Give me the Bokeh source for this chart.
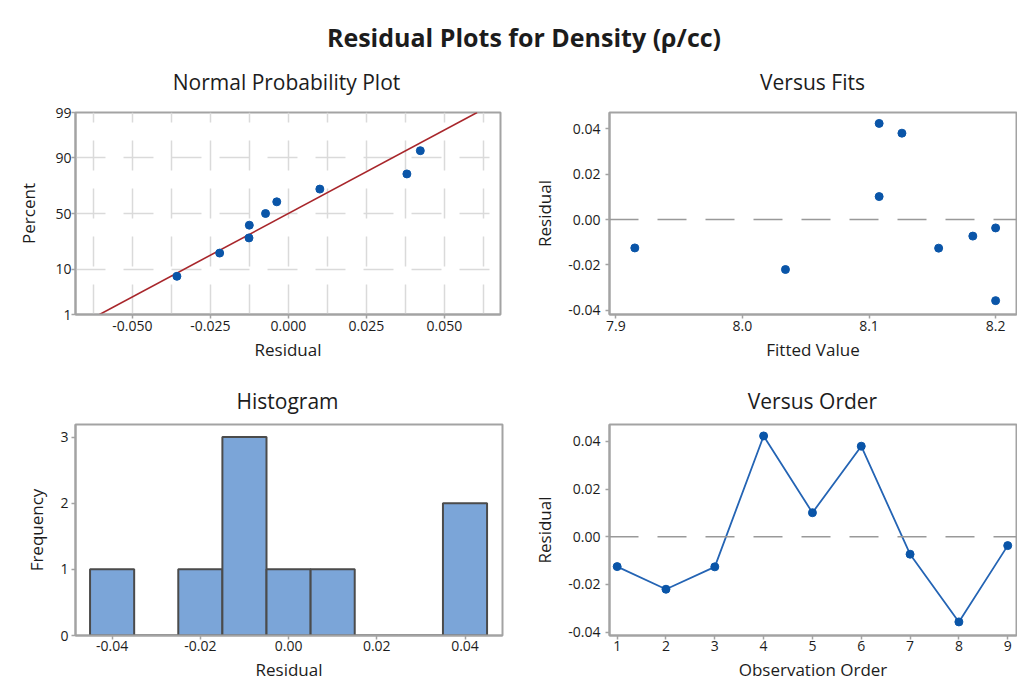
from statistics import NormalDist
from bokeh.plotting import figure
from bokeh.layouts import column, row
from bokeh.models import FixedTicker, NumeralTickFormatter, Span, Label, Range1d
from bokeh.embed import file_html
from bokeh.resources import INLINE

# ---------------- data ----------------
observation_order = [1, 2, 3, 4, 5, 6, 7, 8, 9]
residuals = [-0.0125, -0.0220, -0.0126, 0.0423, 0.0101, 0.0380, -0.0073, -0.0357, -0.0037]
fitted_values = [7.915, 8.034, 8.155, 8.108, 8.108, 8.126, 8.182, 8.200, 8.200]

npp_residual = [-0.0357, -0.0220, -0.0126, -0.0125, -0.0073, -0.0037, 0.0101, 0.0380, 0.0423]
npp_percent = [7.4, 18.1, 28.7, 39.4, 50.0, 60.6, 71.3, 81.9, 92.6]
fit_line_residual = [-0.0605, 0.0605]
fit_line_percent = [1, 99]

hist_centers = [-0.04, -0.03, -0.02, -0.01, 0.00, 0.01, 0.02, 0.03, 0.04]
hist_counts = [1, 0, 1, 3, 1, 1, 0, 0, 2]
hist_bin_width = 0.01

percent_ticks = [1, 10, 50, 90, 99]
percent_grid = [10, 50, 90]
npp_x_ticks = [-0.050, -0.025, 0.000, 0.025, 0.050]
npp_x_grid = [-0.0625, -0.05, -0.0375, -0.025, -0.0125, 0.0, 0.0125, 0.025, 0.0375, 0.05, 0.0625]
hist_x_ticks = [-0.04, -0.02, 0.00, 0.02, 0.04]
hist_y_ticks = [0, 1, 2, 3]
fits_x_ticks = [7.9, 8.0, 8.1, 8.2]
resid_y_ticks = [-0.04, -0.02, 0.00, 0.02, 0.04]

main_title = "Residual Plots for Density (ρ/cc)"
panel_titles = ["Normal Probability Plot", "Versus Fits", "Histogram", "Versus Order"]

# ---------------- styling ----------------
FONT = "Open Sans"
TEXT = "#1c1c1c"
FRAME = "#a3a3a3"
BLUE = "#0a55a8"
LINE_BLUE = "#2464b4"
RED = "#a8262b"
BAR = "#7ba5d8"
BAR_LINE = "#4b4b4b"

nd = NormalDist()
def z(p):
    return nd.inv_cdf(p / 100.0)


def header(height):
    h = figure(width=1017, height=height, x_range=Range1d(0, 1017), y_range=Range1d(0, height),
               output_backend="svg", toolbar_location=None, title=None,
               min_border_left=0, min_border_right=0, min_border_top=0, min_border_bottom=0,
               x_axis_type=None, y_axis_type=None)
    h.outline_line_color = None
    h.xgrid.visible = False
    h.ygrid.visible = False
    return h


def add_text(h, x, y, text, size, style="normal"):
    h.add_layout(Label(x=x, y=y, text=text, text_align="center",
                       text_baseline="alphabetic", text_font=FONT,
                       text_font_size=size, text_font_style=style, text_color=TEXT))


def make_fig(width, height, xr, yr, left, right, top, bottom,
             xl_standoff, xa_standoff, yl_standoff, ya_standoff):
    p = figure(width=width, height=height, x_range=xr, y_range=yr,
               output_backend="svg", toolbar_location=None, title=None,
               min_border_left=left, min_border_right=right,
               min_border_top=top, min_border_bottom=bottom)
    p.outline_line_color = FRAME
    p.outline_line_width = 2
    p.xgrid.visible = False
    p.ygrid.visible = False
    p.background_fill_color = "white"
    p.border_fill_color = "white"
    for ax in (p.xaxis[0], p.yaxis[0]):
        ax.axis_line_color = FRAME
        ax.axis_line_width = 2
        ax.major_tick_line_color = FRAME
        ax.major_tick_line_width = 1.5
        ax.major_tick_out = 4
        ax.major_tick_in = 0
        ax.minor_tick_line_color = None
        ax.major_label_text_font = FONT
        ax.major_label_text_font_size = "14px"
        ax.major_label_text_color = TEXT
        ax.axis_label_text_font = FONT
        ax.axis_label_text_font_size = "17px"
        ax.axis_label_text_font_style = "normal"
        ax.axis_label_text_color = TEXT
    p.xaxis[0].major_label_standoff = xl_standoff
    p.xaxis[0].axis_label_standoff = xa_standoff
    p.yaxis[0].major_label_standoff = yl_standoff
    p.yaxis[0].axis_label_standoff = ya_standoff
    return p

# ---------------- headers (main title + panel titles) ----------------
hdr1 = header(100)
add_text(hdr1, 523.5, 64, main_title, "25px", "bold")
add_text(hdr1, 286, 19, panel_titles[0], "21px")
add_text(hdr1, 812, 19, panel_titles[1], "21px")

hdr2 = header(46)
add_text(hdr2, 287, 16, panel_titles[2], "21px")
add_text(hdr2, 812, 16, panel_titles[3], "21px")

# ---------------- normal probability plot ----------------
p1 = make_fig(520, 270, Range1d(-0.0682, 0.068), Range1d(z(1), z(99)),
              75, 20, 12, 56, 2, 4, 0, 12)
p1.xaxis[0].ticker = FixedTicker(ticks=npp_x_ticks)
p1.xaxis[0].formatter = NumeralTickFormatter(format="0.000")
p1.xaxis[0].axis_label = "Residual"
zt = [z(v) for v in percent_ticks]
p1.yaxis[0].ticker = FixedTicker(ticks=zt)
p1.yaxis[0].major_label_overrides = {t: str(v) for t, v in zip(zt, percent_ticks)}
p1.yaxis[0].axis_label = "Percent"
for g, ticks in ((p1.xgrid[0], npp_x_grid), (p1.ygrid[0], [z(v) for v in percent_grid])):
    g.visible = True
    g.ticker = FixedTicker(ticks=ticks)
    g.grid_line_color = "#dadada"
    g.grid_line_width = 1.5
    g.grid_line_dash = "30 18"
p1.line(fit_line_residual, [z(v) for v in fit_line_percent],
        line_color=RED, line_width=1.6)
p1.scatter(npp_residual, [z(v) for v in npp_percent], size=8, color=BLUE)

# ---------------- versus fits ----------------
p2 = make_fig(497, 270, Range1d(7.895, 8.2165), Range1d(-0.0418, 0.0471),
              89, 1, 11, 56, 2, 4, 5, 9)
p2.xaxis[0].ticker = FixedTicker(ticks=fits_x_ticks)
p2.xaxis[0].formatter = NumeralTickFormatter(format="0.0")
p2.xaxis[0].axis_label = "Fitted Value"
p2.yaxis[0].ticker = FixedTicker(ticks=resid_y_ticks)
p2.yaxis[0].formatter = NumeralTickFormatter(format="0.00")
p2.yaxis[0].axis_label = "Residual"
p2.add_layout(Span(location=0, dimension="width", line_color="#999999",
                   line_width=1.5, line_dash="29 19"))
p2.scatter(fitted_values, residuals, size=8, color=BLUE)

# ---------------- histogram ----------------
p3 = make_fig(520, 267, Range1d(-0.0483, 0.0485), Range1d(0, 3.19),
              75, 18, 8, 47, 1, 4, 3, 9)
p3.xaxis[0].ticker = FixedTicker(ticks=hist_x_ticks)
p3.xaxis[0].formatter = NumeralTickFormatter(format="0.00")
p3.xaxis[0].axis_label = "Residual"
p3.yaxis[0].ticker = FixedTicker(ticks=hist_y_ticks)
p3.yaxis[0].axis_label = "Frequency"
p3.quad(left=[c - hist_bin_width / 2 for c in hist_centers],
        right=[c + hist_bin_width / 2 for c in hist_centers],
        bottom=0, top=hist_counts,
        fill_color=BAR, line_color=BAR_LINE, line_width=2)

# ---------------- versus order ----------------
p4 = make_fig(497, 267, Range1d(0.843, 9.18), Range1d(-0.0414, 0.0471),
              89, 1, 8, 48, 1, 4, 5, 9)
p4.xaxis[0].ticker = FixedTicker(ticks=observation_order)
p4.xaxis[0].axis_label = "Observation Order"
p4.yaxis[0].ticker = FixedTicker(ticks=resid_y_ticks)
p4.yaxis[0].formatter = NumeralTickFormatter(format="0.00")
p4.yaxis[0].axis_label = "Residual"
p4.add_layout(Span(location=0, dimension="width", line_color="#999999",
                   line_width=1.5, line_dash="29 19"))
p4.line(observation_order, residuals, line_color=LINE_BLUE, line_width=1.8)
p4.scatter(observation_order, residuals, size=8, color=BLUE)

layout = column(hdr1, row(p1, p2), hdr2, row(p3, p4))
open("out.html", "w").write(file_html(layout, INLINE))
